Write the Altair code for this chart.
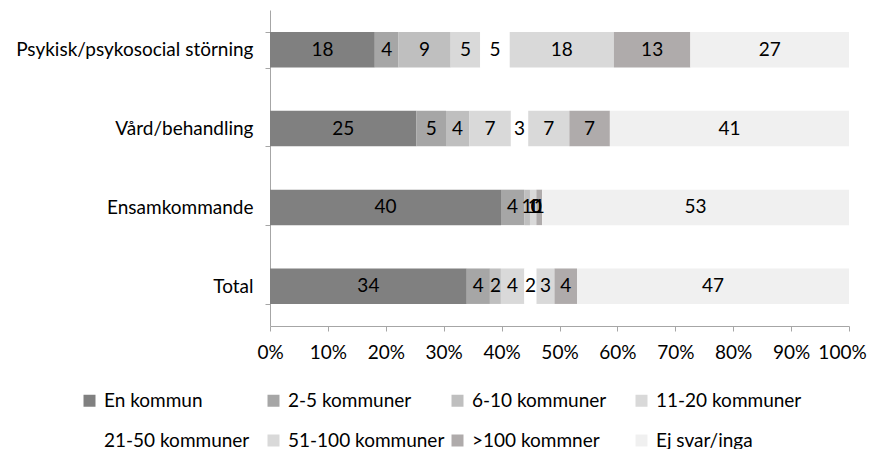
import altair as alt
import pandas as pd

categories = ["Psykisk/psykosocial störning", "Vård/behandling", "Ensamkommande", "Total"]
series = ["En kommun", "2-5 kommuner", "6-10 kommuner", "11-20 kommuner",
          "21-50 kommuner", "51-100 kommuner", ">100 kommner", "Ej svar/inga"]
colors = ["#808080", "#a6a6a6", "#bfbfbf", "#d9d9d9",
          "#ffffff", "#d9d9d9", "#afabab", "#f0f0f0"]

psykisk = [18.1, 4.1, 9.0, 5.1, 5.1, 18.0, 13.2, 27.4]
vard = [25.3, 5.1, 4.0, 7.2, 3.0, 7.1, 7.0, 41.3]
ensam = [39.9, 4.0, 1.0, 1.1, 0.0, 0.0, 1.0, 53.0]
total = [34.0, 4.0, 1.9, 4.05, 2.1, 3.1, 3.9, 47.0]

rows = []
for cat, vals in zip(categories, [psykisk, vard, ensam, total]):
    for i, (s, v) in enumerate(zip(series, vals)):
        rows.append({"cat": cat, "series": s, "order": i, "value": v})
df = pd.DataFrame(rows)

FONT = "Lato"
FS = 19

base = alt.Chart(df).transform_stack(
    stack="value", groupby=["cat"], as_=["x0", "x1"],
    offset="normalize", sort=[alt.SortField("order", order="ascending")]
).transform_calculate(mid="(datum.x0 + datum.x1) / 2")

yenc = alt.Y("cat:N", sort=categories, title=None,
             scale=alt.Scale(paddingInner=0.55, paddingOuter=0.28),
             axis=alt.Axis(domainColor="#a6a6a6", tickColor="#a6a6a6", tickSize=5,
                           tickBand="extent", labelFontSize=FS, labelFont=FONT,
                           labelColor="#000000", labelPadding=12, labelLimit=400))

bars = base.mark_bar().encode(
    x=alt.X("x0:Q", title=None, scale=alt.Scale(domain=[0, 1]),
            axis=alt.Axis(values=[i / 10 for i in range(11)], format=".0%",
                          domainColor="#a6a6a6", tickColor="#a6a6a6", tickSize=5,
                          labelFontSize=FS, labelFont=FONT, labelColor="#000000",
                          labelPadding=12, labelOverlap=False, labelFlush=False,
                          labelOffset={"condition": {"test": "datum.value === 1", "value": -7},
                                       "value": 0},
                          grid=False)),
    x2="x1:Q",
    y=yenc,
    color=alt.Color("series:N", scale=alt.Scale(domain=series, range=colors),
                    legend=alt.Legend(title=None, orient="none", direction="horizontal",
                                      columns=4, symbolType="square", symbolSize=144,
                                      symbolStrokeWidth=0, labelFontSize=FS, labelFont=FONT,
                                      labelColor="#000000", gridAlign="all", labelOffset=5,
                                      columnPadding=3, rowPadding=20,
                                      legendX=-190, legendY=381)),
    order=alt.Order("order:Q"),
)

labels = base.mark_text(fontSize=FS, font=FONT, color="#000000").encode(
    x="mid:Q",
    y=alt.Y("cat:N", sort=categories),
    text=alt.Text("value:Q", format=".0f"),
)

chart = alt.layer(bars, labels).properties(
    width=579, height=316,
    autosize=alt.AutoSizeParams(type="none"),
    padding={"left": 262, "top": 2, "right": 19, "bottom": 123},
).configure_view(stroke=None)

chart.save("out.html", embed_options={"renderer": "svg", "actions": False})
